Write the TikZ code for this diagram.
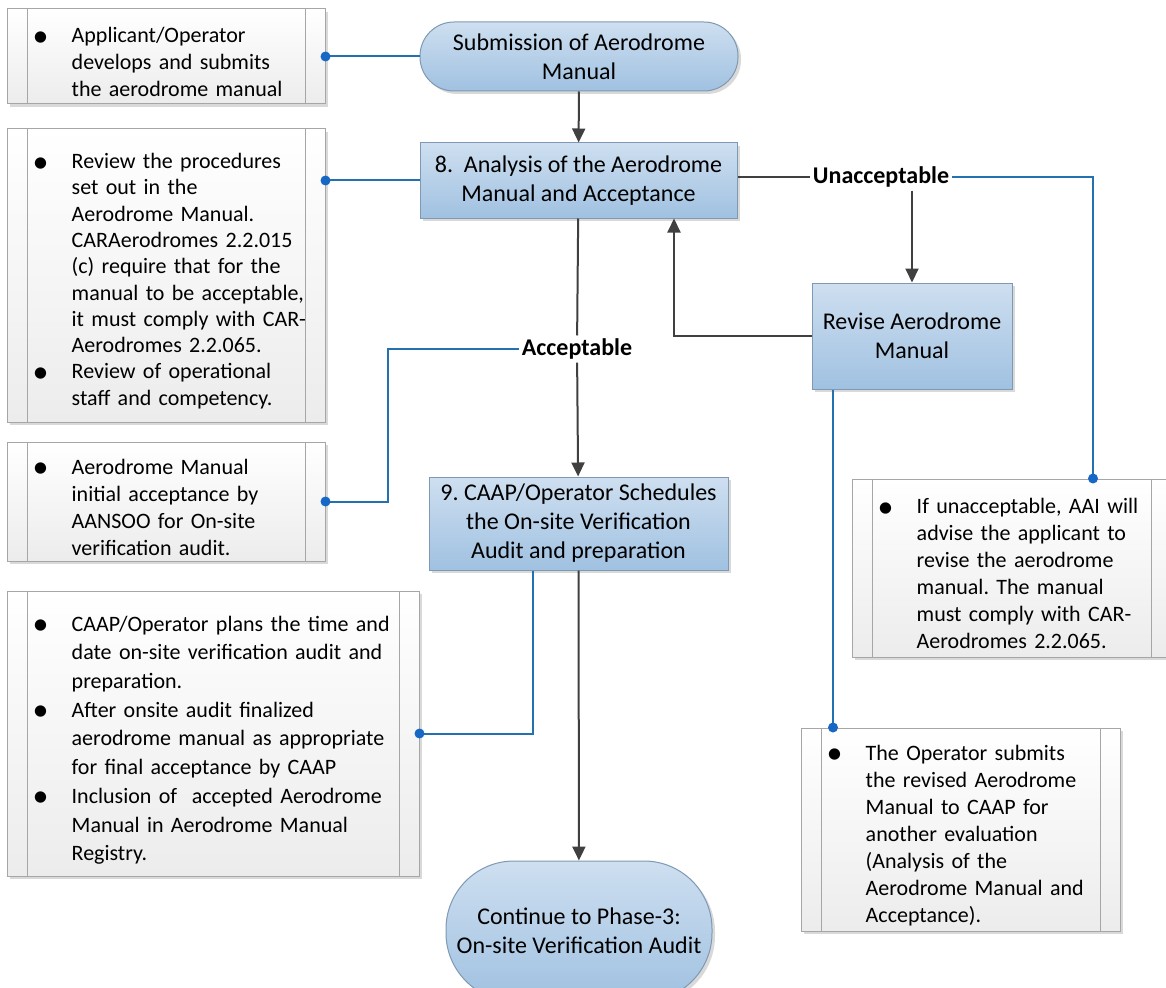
\documentclass[tikz,border=0pt]{standalone}
\usepackage{fontspec}
\setmainfont{Carlito}
\usetikzlibrary{arrows.meta,shadows,positioning}

\definecolor{proctop}{RGB}{206,223,240}
\definecolor{procbot}{RGB}{160,193,225}
\definecolor{procline}{RGB}{127,153,179}
\definecolor{noteline}{RGB}{166,166,166}
\definecolor{notebot}{RGB}{236,236,236}
\definecolor{flowgray}{RGB}{64,64,64}
\definecolor{linkblue}{RGB}{36,113,176}
\definecolor{dotblue}{RGB}{22,104,196}

\frenchspacing
\newcommand{\bitem}{\par\hangindent=39pt\hangafter=1\noindent\makebox[39pt][l]{\raisebox{-3.5pt}{\fontsize{32}{32}\selectfont\textbullet}}}

\tikzset{
  proc/.style={rectangle,draw=procline,line width=1pt,top color=proctop,bottom color=procbot,
    align=center,inner sep=0pt,font=\fontsize{24}{29}\selectfont,
    drop shadow={shadow xshift=3pt,shadow yshift=-3pt,fill=black,opacity=.15}},
  term/.style={proc,rounded corners=34pt},
  notebox/.style={rectangle,draw=noteline,line width=1pt,top color=white,bottom color=notebot,inner sep=0pt,
    drop shadow={shadow xshift=3pt,shadow yshift=-3pt,fill=black,opacity=.15},
    path picture={\draw[noteline,line width=1pt]
      ([xshift=20pt]path picture bounding box.north west) -- ([xshift=20pt]path picture bounding box.south west)
      ([xshift=-20pt]path picture bounding box.north east) -- ([xshift=-20pt]path picture bounding box.south east);}},
  notetext/.style={anchor=west,inner sep=0pt,text width=400pt,font=\fontsize{22}{27}\selectfont},
  flow/.style={draw=flowgray,line width=2pt},
  flowarrow/.style={flow,-{Triangle[length=14pt,width=13pt]}},
  link/.style={draw=linkblue,line width=2pt},
  dot/.style={circle,fill=dotblue,inner sep=0pt,minimum size=10pt},
  lbl/.style={inner sep=3pt,font=\fontsize{24}{29}\selectfont\bfseries}
}

\begin{document}
\begin{tikzpicture}[x=1pt,y=-1pt]
\path[use as bounding box] (0,0) rectangle (1166,987);
\clip (0,0) rectangle (1166,987);

% flow chart
\node[term,minimum width=318pt,minimum height=69pt] (submit) at (579,56.5) {Submission of Aerodrome\\Manual};
\node[proc,minimum width=317pt,minimum height=75pt] (analysis) at (578.5,180.5) {8.\ \ Analysis of the Aerodrome\\Manual and Acceptance};
\node[lbl] (unacc) at (881,177) {Unacceptable};
\node[proc,minimum width=200pt,minimum height=106pt] (revise) at (912,336) {Revise Aerodrome\\Manual};
\node[lbl] (acc) at (577,349) {Acceptable};
\node[proc,minimum width=299pt,minimum height=93pt] (schedule) at (578.5,523.5) {9. CAAP/Operator Schedules\\the On-site Verification\\Audit and preparation};
\node[term,minimum width=266pt,minimum height=140pt,rounded corners=68pt] (phase) at (579,931) {Continue to Phase-3:\\On-site Verification Audit};

% notes
\node[notebox,minimum width=318pt,minimum height=95pt] (n1) at (166,56.5) {};
\node[notetext] (t1) at ([xshift=26pt]n1.west) {\bitem Applicant/Operator\newline develops and submits\newline the aerodrome manual\par};
\node[notebox,minimum width=318pt,minimum height=293pt] (n2) at (166,275.5) {};
\node[notetext,font=\fontsize{22}{26.3}\selectfont] (t2) at ([xshift=26pt]n2.west) {\bitem Review the procedures\newline set out in the\newline Aerodrome Manual.\newline CARAerodromes 2.2.015\newline (c) require that for the\newline manual to be acceptable,\newline it must comply with CAR-\newline Aerodromes 2.2.065.
\bitem Review of operational\newline staff and competency.\par};
\node[notebox,minimum width=318pt,minimum height=119pt] (n3) at (166,501.5) {};
\node[notetext] (t3) at ([xshift=26pt]n3.west) {\bitem Aerodrome Manual\newline initial acceptance by\newline AANSOO for On-site\newline verification audit.\par};
\node[notebox,minimum width=412pt,minimum height=285pt] (n4) at (213,733.5) {};
\node[notetext,font=\fontsize{22}{28.7}\selectfont] (t4) at ([xshift=26pt]n4.west) {\bitem CAAP/Operator plans the time and\newline date on-site verification audit and\newline preparation.
\bitem After onsite audit finalized\newline aerodrome manual as appropriate\newline for final acceptance by CAAP
\bitem Inclusion of\ \ accepted Aerodrome\newline Manual in Aerodrome Manual\newline Registry.\par};
\node[notebox,minimum width=319pt,minimum height=178pt] (n5) at (1011.5,568) {};
\node[notetext] (t5) at ([xshift=26pt]n5.west) {\bitem If unacceptable, AAI will\newline advise the applicant to\newline revise the aerodrome\newline manual. The manual\newline must comply with CAR-\newline Aerodromes 2.2.065.\par};
\node[notebox,minimum width=319pt,minimum height=203pt] (n6) at (960.5,829.5) {};
\node[notetext] (t6) at ([xshift=26pt]n6.west) {\bitem The Operator submits\newline the revised Aerodrome\newline Manual to CAAP for\newline another evaluation\newline (Analysis of the\newline Aerodrome Manual and\newline Acceptance).\par};

% connectors
\draw[flowarrow] (submit) -- (analysis);
\draw[flow] (analysis.east |- unacc) -- (unacc);
\draw[flowarrow] (unacc.south -| revise) -- (revise);
\draw[flowarrow] (revise.west) -| ([xshift=95.5pt]analysis.south);
\draw[flow] (analysis) -- (acc);
\draw[flowarrow] (acc) -- (schedule);
\draw[flowarrow] (schedule) -- (phase);

% note links
\draw[link] (n1.east) -- (submit.west);
\draw[link] (n2.east |- analysis.west) -- (analysis.west);
\draw[link] (acc.west) -| ([xshift=62pt]n3.east) -- (n3.east);
\draw[link] ([xshift=-45.5pt]schedule.south) |- (n4.east);
\draw[link] (unacc.east) -| ([xshift=81.5pt]n5.north);
\draw[link] ([xshift=-79pt]revise.south) -- ([xshift=-79pt]revise.south |- n6.north);
\node[dot] (d1) at (n1.east) {};
\node[dot] (d2) at (n2.east |- analysis.west) {};
\node[dot] (d3) at (n3.east) {};
\node[dot] (d4) at (n4.east) {};
\node[dot] (d5) at ([xshift=81.5pt]n5.north) {};
\node[dot] (d6) at ([xshift=-79pt]revise.south |- n6.north) {};
\end{tikzpicture}
\end{document}
